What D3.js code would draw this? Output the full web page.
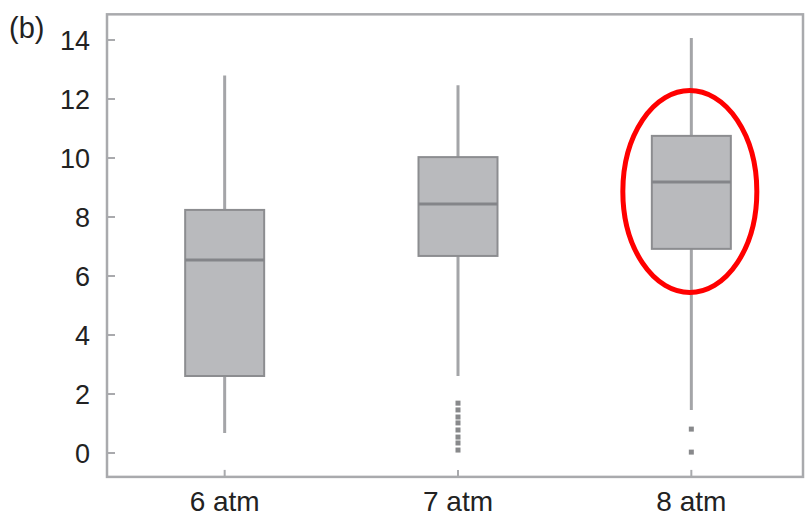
<!DOCTYPE html>
<html>
<head>
<meta charset="utf-8">
<script src="https://cdn.jsdelivr.net/npm/d3@7"></script>
<style>
  html, body { margin: 0; padding: 0; background: #fff; }
  svg { display: block; font-family: "Liberation Sans", Arial, Helvetica, sans-serif; }
</style>
</head>
<body>
<svg id="chart" width="807" height="526"></svg>
<script>
// Pressure groups and their box statistics
const categories = ["6 atm", "7 atm", "8 atm"];
const whiskerLow  = [0.68, 2.61, 1.46];
const q1          = [2.61, 6.68, 6.92];
const median      = [6.54, 8.44, 9.19];
const q3          = [8.24, 10.03, 10.75];
const whiskerHigh = [12.8, 12.47, 14.07];
// Outlying points per group
const outliers = [
  [],
  [1.69, 1.46, 1.22, 1.02, 0.78, 0.54, 0.34, 0.10],
  [0.81, 0.03]
];
const yTicks = [0, 2, 4, 6, 8, 10, 12, 14];
const highlighted = "8 atm";

const svg = d3.select("#chart");

const x = d3.scaleBand().domain(categories).range([108, 808]).padding(0);
const y = d3.scaleLinear().domain([0, 14]).range([453, 40]);

const frameLeft = 107, frameRight = 803;
const frameTop = y(14.87), frameBottom = y(-0.81);

// plot frame
svg.append("rect")
  .attr("x", frameLeft).attr("y", frameTop)
  .attr("width", frameRight - frameLeft).attr("height", frameBottom - frameTop)
  .attr("fill", "none").attr("stroke", "#a9aaad").attr("stroke-width", 2.5);

// y axis ticks (inward) and labels
const yAxis = svg.append("g");
yAxis.selectAll("line").data(yTicks).join("line")
  .attr("x1", frameLeft).attr("x2", frameLeft + 8)
  .attr("y1", d => y(d)).attr("y2", d => y(d))
  .attr("stroke", "#a9aaad").attr("stroke-width", 2);
yAxis.selectAll("text").data(yTicks).join("text")
  .attr("x", 90).attr("y", d => y(d))
  .attr("dy", "0.36em").attr("text-anchor", "end")
  .attr("font-size", 27).attr("fill", "#222")
  .text(d => d);

// x axis ticks (inward) and labels
const xAxis = svg.append("g");
xAxis.selectAll("line").data(categories).join("line")
  .attr("x1", d => x(d) + x.bandwidth() / 2).attr("x2", d => x(d) + x.bandwidth() / 2)
  .attr("y1", frameBottom).attr("y2", frameBottom - 7)
  .attr("stroke", "#a9aaad").attr("stroke-width", 2);
xAxis.selectAll("text").data(categories).join("text")
  .attr("x", d => x(d) + x.bandwidth() / 2).attr("y", 511)
  .attr("text-anchor", "middle")
  .attr("font-size", 28).attr("fill", "#222")
  .text(d => d);

// panel label
svg.append("text").attr("x", 9).attr("y", 38)
  .attr("font-size", 29).attr("fill", "#222").text("(b)");

const boxW = 79;
const groups = svg.append("g").selectAll("g").data(categories).join("g")
  .attr("transform", d => `translate(${x(d) + x.bandwidth() / 2},0)`);

// whiskers
groups.append("line")
  .attr("x1", 0).attr("x2", 0)
  .attr("y1", (d, i) => y(whiskerHigh[i])).attr("y2", (d, i) => y(whiskerLow[i]))
  .attr("stroke", "#a4a5a8").attr("stroke-width", 3);

// boxes
groups.append("rect")
  .attr("x", -boxW / 2).attr("width", boxW)
  .attr("y", (d, i) => y(q3[i])).attr("height", (d, i) => y(q1[i]) - y(q3[i]))
  .attr("fill", "#b9babd").attr("stroke", "#8c8d90").attr("stroke-width", 2);

// medians
groups.append("line")
  .attr("x1", -boxW / 2).attr("x2", boxW / 2)
  .attr("y1", (d, i) => y(median[i])).attr("y2", (d, i) => y(median[i]))
  .attr("stroke", "#848589").attr("stroke-width", 3);

// outliers
groups.each(function (d, i) {
  d3.select(this).selectAll("rect.out").data(outliers[i]).join("rect")
    .attr("class", "out")
    .attr("x", -2.5).attr("width", 5)
    .attr("y", v => y(v) - 2.5).attr("height", 5)
    .attr("fill", "#6a6b6e").attr("opacity", 0.8);
});

// highlight ring around the 8 atm box
const hx = x(highlighted) + x.bandwidth() / 2;
svg.append("ellipse")
  .attr("cx", hx - 1.5).attr("cy", 191.5)
  .attr("rx", 67).attr("ry", 101)
  .attr("fill", "none").attr("stroke", "#ff0000").attr("stroke-width", 5);
</script>
</body>
</html>
